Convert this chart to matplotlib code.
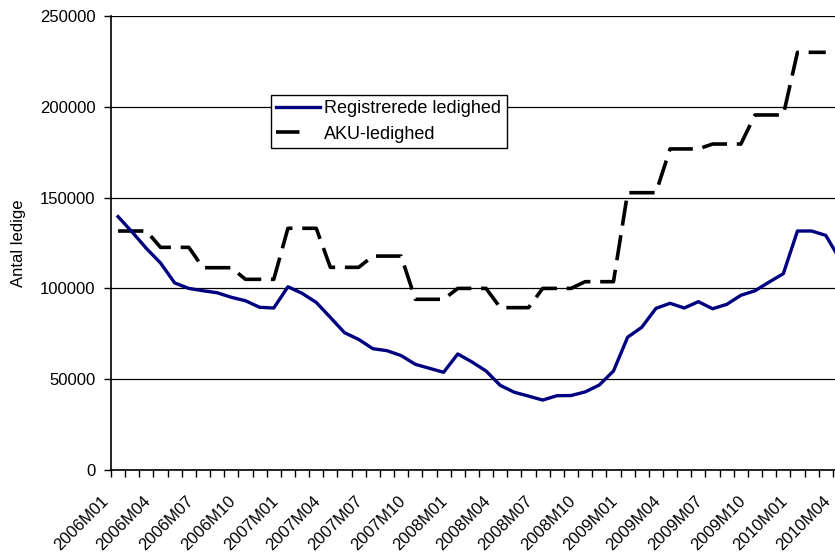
import numpy as np
import matplotlib
matplotlib.use('Agg')
import matplotlib.pyplot as plt
import matplotlib.transforms as mtransforms
from matplotlib.lines import Line2D

plt.rcParams['font.family'] = ['Liberation Sans', 'DejaVu Sans']

# monthly categories 2006M01 .. 2010M04
MONTHS = [f'{y}M{m:02d}' for y in range(2006, 2011) for m in range(1, 13)][:52]

REG = [139500, 131000, 122000, 114000, 103000, 100000, 98700, 97600, 95100, 93200, 89600, 89200,
       100900, 97300, 92300, 84000, 75600, 71900, 66800, 65700, 63000, 58200, 56000, 53800,
       63900, 59500, 54500, 46600, 42800, 40700, 38500, 40900, 41000, 43000, 46800, 54500,
       73100, 78600, 89000, 91800, 89200, 92700, 88800, 91200, 96200, 98700, 103500, 108100,
       131600, 131600, 129200, 116000]

AKU = [131600, 131600, 131600, 122600, 122600, 122600, 111400, 111400, 111400, 105000, 105000, 105000,
       133100, 133100, 133100, 111600, 111600, 111600, 117800, 117800, 117800, 94000, 94000, 94000,
       100000, 100000, 100000, 89400, 89400, 89400, 100000, 100000, 100000, 103700, 103700, 103700,
       152700, 152700, 152700, 176800, 176800, 176800, 179500, 179500, 179500, 195500, 195500, 195500,
       230000, 230000, 230000, np.nan]

Y_TICKS = [0, 50000, 100000, 150000, 200000, 250000]

W, H = 835, 555
fig = plt.figure(figsize=(W / 100, H / 100), dpi=100)
# plot area runs slightly past the right edge, as in the reference crop
ax = fig.add_axes([111 / W, (H - 470) / H, 736 / W, 454 / H])

x = np.arange(len(MONTHS))
l1, = ax.plot(x, REG, color='#000080', linewidth=2.4, label='Registrerede ledighed', zorder=4)
ax.plot(x, AKU, color='black', linewidth=2.6, dashes=(7, 2.7), zorder=3)

ax.set_xlim(-0.5, len(MONTHS) - 0.5)
ax.set_ylim(0, 250000)

ax.set_yticks(Y_TICKS)
ax.set_yticklabels([str(v) for v in Y_TICKS])
ax.tick_params(axis='y', direction='out', length=5, width=1, pad=6, labelsize=12)
ax.yaxis.grid(True, color='black', linewidth=0.9)
ax.set_axisbelow(True)

ax.set_xticks(x[::3])
ax.set_xticklabels(MONTHS[::3], rotation=45, ha='right', fontsize=12)
ax.set_xticks(np.arange(len(MONTHS) + 1) - 0.5, minor=True)
ax.tick_params(axis='x', which='major', length=0, pad=17)
ax.tick_params(axis='x', which='minor', direction='out', length=5, width=1)
shift = mtransforms.ScaledTranslation(-7 / 100, 0, fig.dpi_scale_trans)
for lbl in ax.get_xticklabels():
    lbl.set_transform(lbl.get_transform() + shift)

for s in ['top', 'right']:
    ax.spines[s].set_visible(False)
for s in ['left', 'bottom']:
    ax.spines[s].set_color('black')
    ax.spines[s].set_linewidth(1.2)

fig.text(19 / W, 1 - 243 / H, 'Antal ledige', rotation=90, ha='center', va='center', fontsize=12)

# legend sample for the dashed series shows a single dash, like the original
aku_handle = Line2D([], [], color='black', linewidth=2.6, dashes=(6.5, 20))
leg = ax.legend([l1, aku_handle], ['Registrerede ledighed', 'AKU-ledighed'],
                loc='upper left', bbox_to_anchor=(271 / W, 1 - 95 / H), bbox_transform=fig.transFigure,
                borderaxespad=0, fontsize=13, frameon=True, fancybox=False, framealpha=1,
                handlelength=2.4, handletextpad=0.25, borderpad=0.3, labelspacing=0.45)
leg.get_frame().set_edgecolor('black')
leg.get_frame().set_linewidth(1)

fig.savefig('out.png', dpi=100)
